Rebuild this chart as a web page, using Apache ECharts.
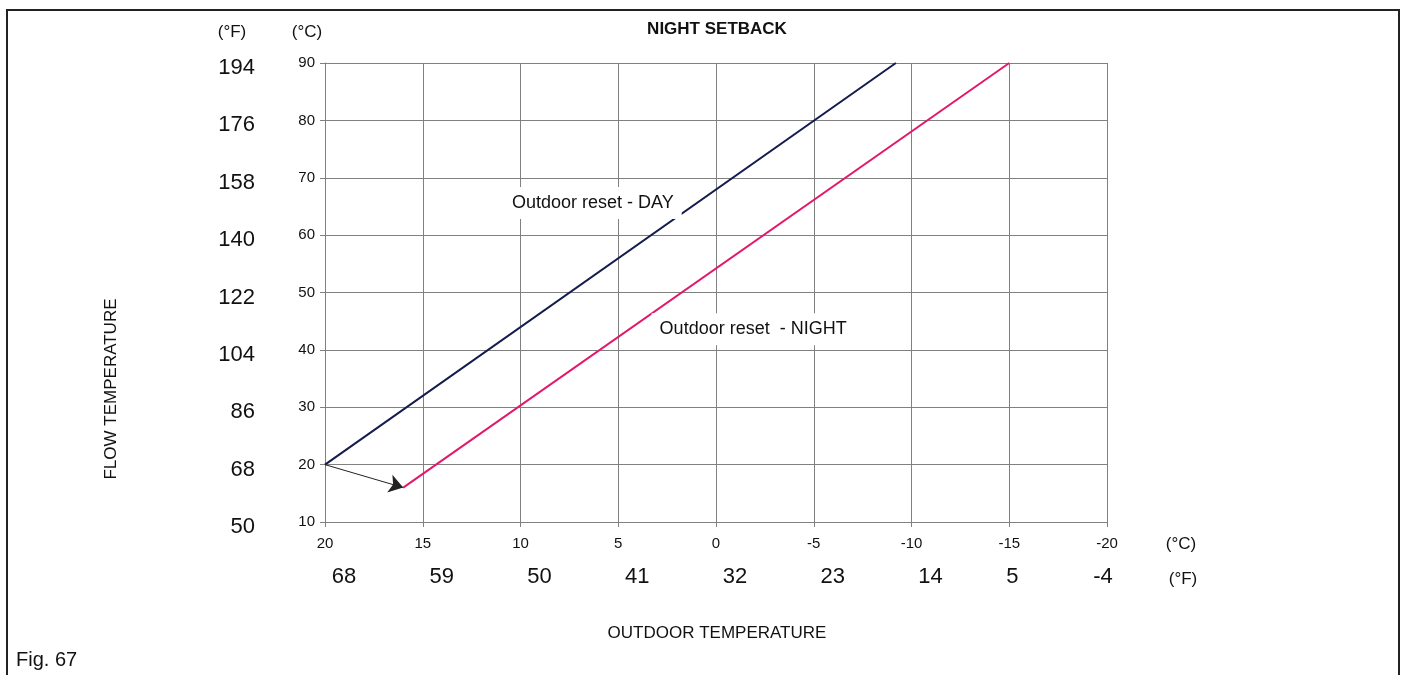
<!DOCTYPE html>
<html>
<head>
<meta charset="utf-8">
<title>Night setback</title>
<script src="https://cdn.jsdelivr.net/npm/echarts@6/dist/echarts.min.js"></script>
<style>
  html, body { margin: 0; padding: 0; background: #fff; }
  #chart { width: 1416px; height: 675px; }
</style>
</head>
<body>
<div id="chart"></div>
<script>
// flow temperature ticks (°C) and their °F equivalents
const flowTicksC = [10, 20, 30, 40, 50, 60, 70, 80, 90]
const flowTicksF = ['50', '68', '86', '104', '122', '140', '158', '176', '194']
// outdoor temperature ticks (°C) and their °F equivalents
const outdoorTicksC = [20, 15, 10, 5, 0, -5, -10, -15, -20]
const outdoorTicksF = ['68', '59', '50', '41', '32', '23', '14', '5', '-4']

// heating curves: [outdoor °C, flow °C]
const dayCurve = [[20, 20], [-9.2, 90]]
const nightCurve = [[16, 16], [-15, 90]]
// setback arrow from day start to night start
const setbackArrow = [[20, 20], [16, 16]]

// curve captions: [outdoor °C, flow °C, text]
const captions = [
  [6.3, 65.6, 'Outdoor reset - DAY'],
  [-1.9, 43.6, 'Outdoor reset  - NIGHT'],
]

const FONT = '"Liberation Sans", Arial, sans-serif'
const GRID_COLOR = '#808080'

const chart = echarts.init(document.getElementById('chart'))

const option = {
  animation: false,
  backgroundColor: '#fff',
  grid: {
    left: 325,
    right: 309,
    top: 63,
    bottom: 153,
  },
  xAxis: [
    {
      type: 'value',
      inverse: true,
      min: -20,
      max: 20,
      interval: 5,
      axisLine: { show: true, onZero: false, lineStyle: { color: GRID_COLOR, width: 1 } },
      axisTick: { show: true, length: 5, lineStyle: { color: GRID_COLOR } },
      splitLine: { show: true, lineStyle: { color: GRID_COLOR, width: 1 } },
      axisLabel: {
        margin: 14,
        color: '#111',
        fontFamily: FONT,
        fontSize: 15,
        formatter: (v) => String(outdoorTicksC[outdoorTicksC.indexOf(v)]),
      },
    },
    {
      type: 'value',
      inverse: true,
      position: 'bottom',
      min: -20,
      max: 20,
      interval: 5,
      axisLine: { show: false },
      axisTick: { show: false },
      splitLine: { show: false },
      axisLabel: {
        margin: 44,
        color: '#111',
        fontFamily: FONT,
        fontSize: 22,
        formatter: (v) => {
          const i = outdoorTicksC.indexOf(v)
          const key = i === 7 ? 'b' : i === 8 ? 'c' : 'a'
          return `{${key}|${outdoorTicksF[i]}}`
        },
        rich: {
          a: { fontFamily: FONT, fontSize: 22, color: '#111', padding: [0, 0, 0, 38] },
          b: { fontFamily: FONT, fontSize: 22, color: '#111', padding: [0, 0, 0, 6] },
          c: { fontFamily: FONT, fontSize: 22, color: '#111', padding: [0, 8, 0, 0] },
        },
      },
    },
  ],
  yAxis: [
    {
      type: 'value',
      min: 10,
      max: 90,
      interval: 10,
      axisLine: { show: true, onZero: false, lineStyle: { color: GRID_COLOR, width: 1 } },
      axisTick: { show: true, length: 5, lineStyle: { color: GRID_COLOR } },
      splitLine: { show: true, lineStyle: { color: GRID_COLOR, width: 1 } },
      axisLabel: {
        margin: 10,
        color: '#111',
        fontFamily: FONT,
        fontSize: 15,
        formatter: (v) => String(flowTicksC[flowTicksC.indexOf(v)]),
      },
    },
    {
      type: 'value',
      position: 'left',
      min: 10,
      max: 90,
      interval: 10,
      axisLine: { show: false },
      axisTick: { show: false },
      splitLine: { show: false },
      axisLabel: {
        margin: 70,
        color: '#111',
        fontFamily: FONT,
        fontSize: 22,
        verticalAlign: 'top',
        lineHeight: 10,
        formatter: (v) => flowTicksF[flowTicksC.indexOf(v)],
      },
    },
  ],
  series: [
    {
      name: 'Outdoor reset - DAY',
      type: 'line',
      data: dayCurve,
      showSymbol: false,
      symbol: 'none',
      lineStyle: { color: '#141b4d', width: 2 },
      z: 3,
    },
    {
      name: 'Outdoor reset - NIGHT',
      type: 'line',
      data: nightCurve,
      showSymbol: false,
      symbol: 'none',
      lineStyle: { color: '#e2196b', width: 2 },
      z: 3,
    },
    {
      name: 'setback',
      type: 'lines',
      coordinateSystem: 'cartesian2d',
      symbol: ['none', 'arrow'],
      symbolSize: [0, 14],
      lineStyle: { color: '#222', width: 1, opacity: 1 },
      data: [{ coords: setbackArrow }],
      z: 4,
    },
    {
      name: 'captions',
      type: 'scatter',
      data: captions,
      symbolSize: 0,
      silent: true,
      z: 10,
      itemStyle: { opacity: 1 },
      label: {
        show: true,
        position: 'inside',
        formatter: (p) => p.value[2],
        color: '#111',
        opacity: 1,
        textBorderWidth: 0,
        fontFamily: FONT,
        fontSize: 18,
        backgroundColor: '#fff',
        padding: [7, 8],
      },
    },
  ],
  graphic: [
    {
      type: 'polyline',
      shape: { points: [[7, 675], [7, 10], [1399, 10], [1399, 675]] },
      style: { stroke: '#222', lineWidth: 2, fill: null },
      silent: true,
    },
    {
      type: 'text',
      x: 717,
      y: 29,
      style: { text: 'NIGHT SETBACK', font: `bold 17px ${FONT}`, fill: '#111', align: 'center', verticalAlign: 'middle' },
    },
    {
      type: 'text',
      x: 232,
      y: 32,
      style: { text: '(°F)', font: `17px ${FONT}`, fill: '#111', align: 'center', verticalAlign: 'middle' },
    },
    {
      type: 'text',
      x: 307,
      y: 32,
      style: { text: '(°C)', font: `17px ${FONT}`, fill: '#111', align: 'center', verticalAlign: 'middle' },
    },
    {
      type: 'text',
      x: 1181,
      y: 544,
      style: { text: '(°C)', font: `17px ${FONT}`, fill: '#111', align: 'center', verticalAlign: 'middle' },
    },
    {
      type: 'text',
      x: 1183,
      y: 579,
      style: { text: '(°F)', font: `17px ${FONT}`, fill: '#111', align: 'center', verticalAlign: 'middle' },
    },
    {
      type: 'text',
      x: 111,
      y: 389,
      rotation: Math.PI / 2,
      style: { text: 'FLOW TEMPERATURE', font: `17px ${FONT}`, fill: '#111', align: 'center', verticalAlign: 'middle' },
    },
    {
      type: 'text',
      x: 717,
      y: 633,
      style: { text: 'OUTDOOR TEMPERATURE', font: `17px ${FONT}`, fill: '#111', align: 'center', verticalAlign: 'middle' },
    },
    {
      type: 'text',
      x: 16,
      y: 660,
      style: { text: 'Fig. 67', font: `20px ${FONT}`, fill: '#111', align: 'left', verticalAlign: 'middle' },
    },
  ],
}

chart.setOption(option)
</script>
</body>
</html>
